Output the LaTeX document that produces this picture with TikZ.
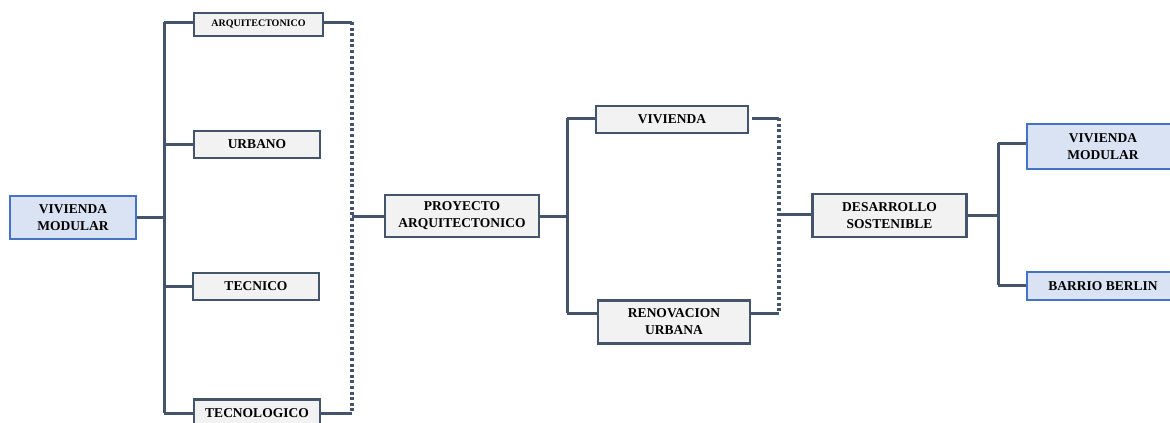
\documentclass[tikz,border=0pt]{standalone}
\usepackage{fontspec}
\setmainfont{Liberation Serif}
\definecolor{linec}{HTML}{44546A}
\definecolor{greyf}{HTML}{F2F2F2}
\definecolor{bluef}{HTML}{DAE3F3}
\definecolor{blued}{HTML}{4472C4}
\begin{document}
\begin{tikzpicture}[x=1pt,y=-1pt,
  gbox/.style={draw=linec,fill=greyf,line width=2.6pt,inner sep=0pt,align=center,
    font=\bfseries\fontsize{13.5}{17}\selectfont,text=black},
  bbox/.style={gbox,draw=blued,fill=bluef},
  conn/.style={draw=linec,line width=3pt},
  dots/.style={draw=linec,line width=3.2pt,dash pattern=on 3pt off 2.6pt}]
\useasboundingbox (0,0) rectangle (1170,423);
% column 1
\node[bbox,minimum width=126pt,minimum height=43pt] (vm1) at (73,217.5) {VIVIENDA\\MODULAR};
\node[gbox,minimum width=129pt,minimum height=23pt,font=\bfseries\fontsize{10}{12}\selectfont] (arq) at (258.5,24.5) {ARQUITECTONICO};
\node[gbox,minimum width=126pt,minimum height=27pt] (urb) at (257,144.5) {URBANO};
\node[gbox,minimum width=126pt,minimum height=27pt] (tec) at (256,286.5) {TECNICO};
\node[gbox,minimum width=126pt,minimum height=27pt] (tecn) at (257,413) {TECNOLOGICO};
% column 2
\node[gbox,minimum width=154pt,minimum height=42pt] (proy) at (462,216) {PROYECTO\\ARQUITECTONICO};
\node[gbox,minimum width=152pt,minimum height=27pt] (viv) at (672,119.5) {VIVIENDA};
\node[gbox,minimum width=152pt,minimum height=43pt] (ren) at (674,322) {RENOVACION\\URBANA};
% column 3
\node[gbox,minimum width=154pt,minimum height=43pt] (des) at (889.5,215.5) {DESARROLLO\\SOSTENIBLE};
\node[bbox,minimum width=152pt,minimum height=45pt] (vm2) at (1103,146.5) {VIVIENDA\\MODULAR};
\node[bbox,minimum width=152pt,minimum height=28pt] (bb) at (1103,286) {BARRIO BERLIN};
% bracket 1
\coordinate (s1t) at (164,22);
\coordinate (s1b) at (164,413);
\draw[conn] (vm1.east) -- (vm1.east -| s1t);
\draw[conn] (s1t) -- (s1b);
\draw[conn] (s1t) -- ([yshift=2.5pt]arq.west);
\draw[conn] (urb.west -| s1t) -- (urb.west);
\draw[conn] (tec.west -| s1t) -- (tec.west);
\draw[conn] (s1b) -- (tecn.west);
% dotted 1
\coordinate (d1t) at (352,22);
\coordinate (d1b) at (352,413);
\coordinate (d1m) at (352,216);
\draw[conn] ([yshift=2.5pt]arq.east) -- (d1t);
\draw[conn] (tecn.east) -- (d1b);
\draw[dots] (d1t) -- (d1b);
\draw[conn] (d1m) -- (proy.west);
% bracket 2
\coordinate (s2t) at (567,118);
\coordinate (s2b) at (567,313);
\draw[conn] (proy.east) -- (proy.east -| s2t);
\draw[conn] (s2t) -- (s2b);
\draw[conn] (s2t) -- (viv.west |- s2t);
\draw[conn] (s2b) -- (ren.west |- s2b);
% dotted 2
\coordinate (d2t) at (779,118);
\coordinate (d2b) at (779,313);
\coordinate (d2m) at (779,214);
\draw[conn] ([xshift=3pt]viv.east |- d2t) -- (d2t);
\draw[conn] (ren.east |- d2b) -- (d2b);
\draw[dots] (d2t) -- (d2b);
\draw[conn] (d2m) -- (des.west |- d2m);
% bracket 3
\coordinate (s3t) at (998,143);
\coordinate (s3b) at (998,285);
\draw[conn] (des.east) -- (des.east -| s3t);
\draw[conn] (s3t) -- (s3b);
\draw[conn] (s3t) -- (vm2.west |- s3t);
\draw[conn] (s3b) -- (bb.west |- s3b);
\end{tikzpicture}
\end{document}
